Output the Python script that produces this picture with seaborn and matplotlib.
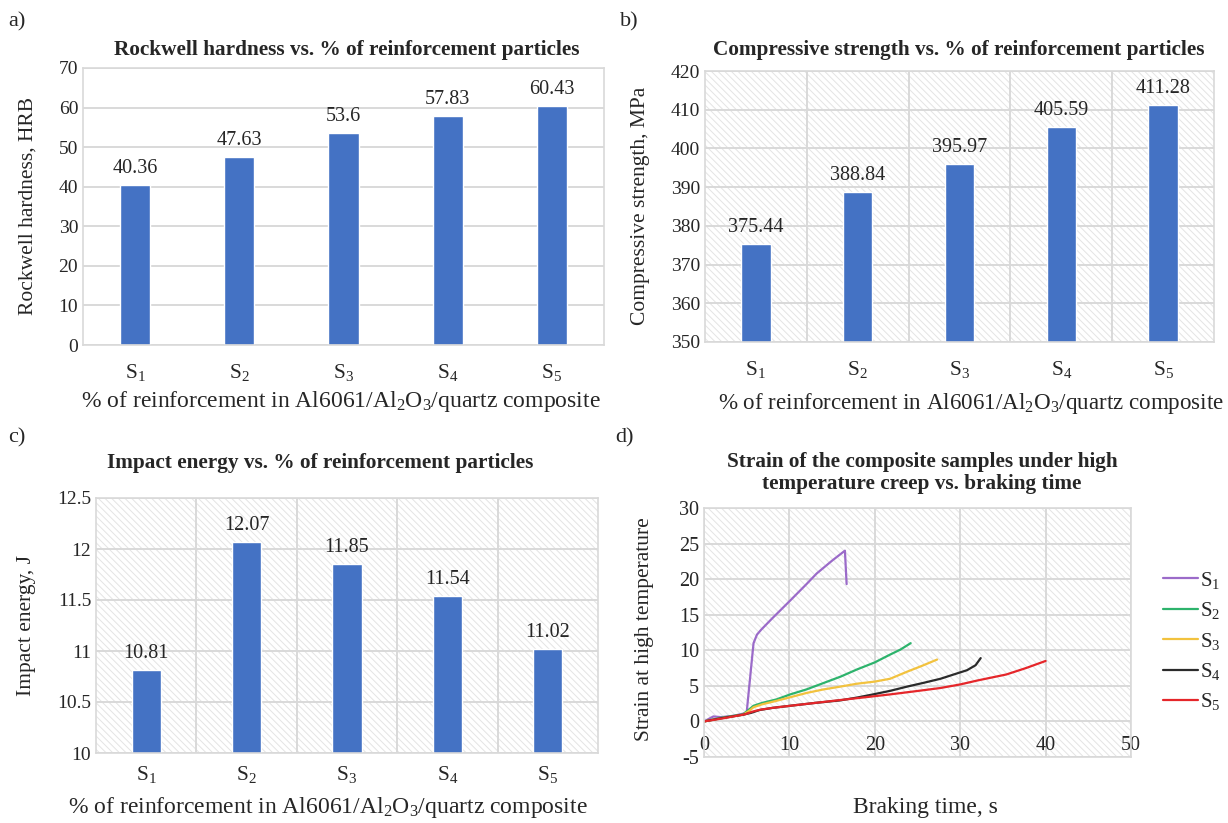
import matplotlib
matplotlib.use("Agg")
import matplotlib.pyplot as plt
from matplotlib.patches import Rectangle
import pandas as pd
import seaborn as sns

# ---- data ----
samples = [r"$\mathrm{S}_1$", r"$\mathrm{S}_2$", r"$\mathrm{S}_3$", r"$\mathrm{S}_4$", r"$\mathrm{S}_5$"]
hardness = [40.36, 47.63, 53.6, 57.83, 60.43]
compressive = [375.44, 388.84, 395.97, 405.59, 411.28]
impact = [10.81, 12.07, 11.85, 11.54, 11.02]

s1_t = [0, 1.1, 2.0, 3.5, 4.6, 5.0, 5.8, 6.2, 6.7, 8.0, 10.1, 12.0, 13.2, 15.0, 16.5, 16.7]
s1_s = [0, 0.7, 0.6, 0.8, 1.1, 1.3, 11.0, 12.2, 12.9, 14.5, 17.0, 19.3, 20.8, 22.6, 24.0, 19.3]
s2_t = [0, 2, 4.6, 5.3, 5.8, 6.8, 8.5, 10.1, 12, 14, 16, 17.9, 20, 21.8, 23, 24.2]
s2_s = [0, 0.5, 1.0, 1.7, 2.2, 2.6, 3.1, 3.8, 4.5, 5.4, 6.3, 7.3, 8.3, 9.4, 10.1, 11.0]
s3_t = [0, 2, 4.6, 5.3, 5.8, 6.8, 8.5, 10.1, 12, 14, 16, 17.9, 20, 21.8, 22.8, 23.8, 25.5, 27.3]
s3_s = [0, 0.45, 0.95, 1.5, 2.0, 2.4, 2.9, 3.4, 4.0, 4.5, 4.9, 5.3, 5.6, 6.0, 6.5, 7.0, 7.8, 8.7]
s4_t = [0, 2, 4.6, 5.5, 6.5, 8, 10.1, 13, 15.9, 17.9, 19.8, 21.8, 23.8, 25.8, 27.7, 29.5, 30.8, 31.8, 32.4]
s4_s = [0, 0.45, 0.95, 1.2, 1.6, 1.9, 2.2, 2.6, 2.95, 3.35, 3.8, 4.3, 4.9, 5.45, 6.0, 6.7, 7.2, 7.9, 8.9]
s5_t = [0, 2.3, 4.8, 5.6, 6.6, 8, 10.1, 13, 15.9, 18.9, 21.8, 24.8, 27.7, 30, 32, 35.4, 37.7, 40]
s5_s = [0, 0.45, 1.0, 1.35, 1.65, 1.9, 2.2, 2.6, 3.0, 3.4, 3.8, 4.25, 4.7, 5.2, 5.75, 6.6, 7.5, 8.5]

line_colors = ["#9B6BC9", "#2DB36C", "#F2C23E", "#2B2B2B", "#E5262A"]
bar_color = "#4472C4"
grid_color = "#d9d9d9"
text_color = "#262626"

sns.set_style("white")
plt.rcParams["font.family"] = ["Liberation Serif", "DejaVu Serif"]
plt.rcParams["mathtext.fontset"] = "custom"
plt.rcParams["mathtext.rm"] = "Liberation Serif"
plt.rcParams["mathtext.it"] = "Liberation Serif:italic"
plt.rcParams["mathtext.bf"] = "Liberation Serif:bold"
plt.rcParams["axes.unicode_minus"] = False
plt.rcParams["hatch.linewidth"] = 0.7

fig = plt.figure(figsize=(12.28, 8.23), dpi=100)
W, H = 1228, 823
TITLE_SIZE = 15.3
LABEL_SIZE = 17


def px_axes(left, top, right, bottom):
    return fig.add_axes([left / W, 1 - bottom / H, (right - left) / W, (bottom - top) / H])


def ftext(x, y, s, **kw):
    fig.text(x / W, 1 - y / H, s, color=text_color, **kw)


def style_frame(ax, hatched, vgrid):
    ax.set_axisbelow(True)
    if hatched:
        ax.add_patch(Rectangle((0, 0), 1, 1, transform=ax.transAxes, facecolor="white",
                               edgecolor="#e4e4e4", hatch="\\\\\\\\\\", lw=0, zorder=0))
    for sp in ax.spines.values():
        sp.set_color(grid_color)
        sp.set_linewidth(1.2)
    ax.grid(axis="y", color=grid_color, lw=1.4)
    if vgrid:
        ax.grid(axis="x", which="minor", color=grid_color, lw=1.4)
    ax.tick_params(length=0, colors=text_color, labelsize=14)


def bar_panel(ax, values, ylim, ystep, hatched):
    sns.barplot(x=samples, y=values, color=bar_color, saturation=1, width=0.29, ax=ax)
    ax.set_ylim(*ylim)
    ax.set_xlim(-0.5, 4.5)
    ax.set_yticks([ylim[0] + i * ystep for i in range(int(round((ylim[1] - ylim[0]) / ystep)) + 1)])
    ax.set_xticks([0.5, 1.5, 2.5, 3.5], minor=True)
    style_frame(ax, hatched, hatched)
    ax.tick_params(axis="x", labelsize=15.5, pad=12)
    ax.yaxis.set_major_formatter(matplotlib.ticker.FormatStrFormatter("%g"))
    ax.bar_label(ax.containers[0], fmt="%g", padding=5, fontsize=14.5, color=text_color)
    ax.set_xlabel("")
    ax.set_ylabel("")


xlab = r"% of reinforcement in Al6061/Al$_2$O$_3$/quartz composite"

# a) Rockwell hardness
ax_a = px_axes(83, 68, 604, 345)
bar_panel(ax_a, hardness, (0, 70), 10, False)
ftext(8, 22, "a)", fontsize=16, va="center")
ftext(347, 50, "Rockwell hardness vs. % of reinforcement particles", fontsize=TITLE_SIZE,
      fontweight="bold", ha="center", va="center")
ftext(28, 206, "Rockwell hardness, HRB", fontsize=15.5, rotation=90, ha="center", va="center")
ftext(341, 402, xlab, fontsize=LABEL_SIZE, ha="center", va="center")

# b) Compressive strength
ax_b = px_axes(705, 71, 1214, 342)
bar_panel(ax_b, compressive, (350, 420), 10, True)
ftext(620, 22, "b)", fontsize=16, va="center")
ftext(959, 50, "Compressive strength vs. % of reinforcement particles", fontsize=TITLE_SIZE,
      fontweight="bold", ha="center", va="center")
ftext(640, 206, "Compressive strength, MPa", fontsize=15.5, rotation=90, ha="center", va="center")
ftext(1224, 403, xlab, fontsize=16.6, ha="right", va="center")

# c) Impact energy
ax_c = px_axes(96, 498, 598, 753)
bar_panel(ax_c, impact, (10, 12.5), 0.5, True)
ax_c.tick_params(axis="x", pad=8)
ftext(8, 438, "c)", fontsize=16, va="center")
ftext(320, 463, "Impact energy vs. % of reinforcement particles", fontsize=TITLE_SIZE,
      fontweight="bold", ha="center", va="center")
ftext(27, 625, "Impact energy, J", fontsize=15.5, rotation=90, ha="center", va="center")
ftext(328, 807, xlab, fontsize=LABEL_SIZE, ha="center", va="center")

# d) Strain vs braking time
ax_d = px_axes(704, 508, 1131, 757)
series = [(s1_t, s1_s), (s2_t, s2_s), (s3_t, s3_s), (s4_t, s4_s), (s5_t, s5_s)]
frames = []
for name, (t, s) in zip(samples, series):
    frames.append(pd.DataFrame({"t": t, "strain": s, "sample": name}))
creep = pd.concat(frames, ignore_index=True)
sns.lineplot(data=creep, x="t", y="strain", hue="sample", palette=line_colors,
             sort=False, estimator=None, lw=1.6, ax=ax_d)
ax_d.set_xlim(0, 50)
ax_d.set_ylim(-5, 30)
ax_d.set_xticks(range(0, 51, 10))
ax_d.set_yticks(range(-5, 31, 5))
style_frame(ax_d, True, False)
ax_d.grid(axis="x", which="major", color=grid_color, lw=1.4)
ax_d.tick_params(labelsize=14.5)
ax_d.tick_params(axis="x", pad=-15)
ax_d.set_xlabel("")
ax_d.set_ylabel("")
handles, labels = ax_d.get_legend_handles_labels()
ax_d.legend(handles, labels, loc="center left", bbox_to_anchor=(1163 / W, 1 - 641 / H),
            bbox_transform=fig.transFigure, frameon=False, fontsize=15, handlelength=1.7,
            handletextpad=0.1, labelspacing=0.45, borderpad=0, borderaxespad=0,
            labelcolor=text_color)
ftext(615, 438, "d)", fontsize=16, va="center")
ftext(922, 473, "Strain of the composite samples under high\ntemperature creep vs. braking time",
      fontsize=TITLE_SIZE, fontweight="bold", ha="center", va="center", linespacing=1.1)
ftext(645, 629, "Strain at high temperature", fontsize=15.5, rotation=90, ha="center", va="center")
ftext(925, 808, "Braking time, s", fontsize=LABEL_SIZE, ha="center", va="center")

fig.savefig("out.png", dpi=100)
